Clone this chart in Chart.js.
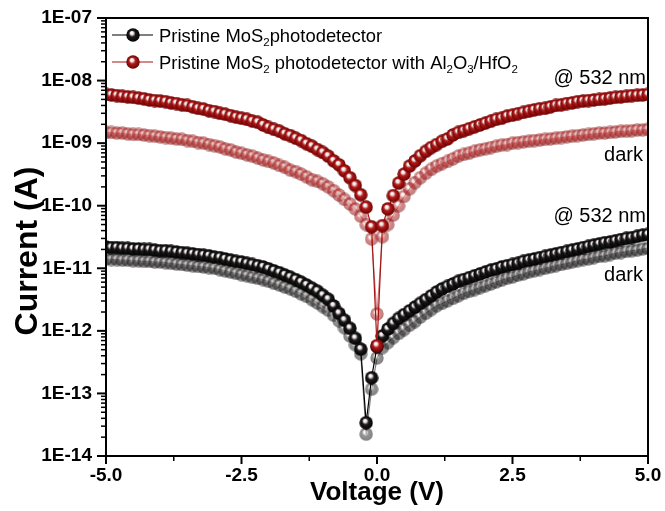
<!DOCTYPE html>
<html>
<head>
<meta charset="utf-8">
<script src="https://cdn.jsdelivr.net/npm/chart.js@4"></script>
<style>
  body { margin: 0; background: #fff; }
  #myChart { display: block; }
</style>
</head>
<body>
<canvas id="myChart" width="665" height="511"></canvas>
<script>
  const volts = [
    -5.0, -4.9, -4.8, -4.7, -4.6, -4.5, -4.4, -4.3, -4.2, -4.1,
    -4.0, -3.9, -3.8, -3.7, -3.6, -3.5, -3.4, -3.3, -3.2, -3.1,
    -3.0, -2.9, -2.8, -2.7, -2.6, -2.5, -2.4, -2.3, -2.2, -2.1,
    -2.0, -1.9, -1.8, -1.7, -1.6, -1.5, -1.4, -1.3, -1.2, -1.1,
    -1.0, -0.9, -0.8, -0.7, -0.6, -0.5, -0.4, -0.3, -0.2, -0.1,
    0.0,
    0.1, 0.2, 0.3, 0.4, 0.5, 0.6, 0.7, 0.8, 0.9, 1.0,
    1.1, 1.2, 1.3, 1.4, 1.5, 1.6, 1.7, 1.8, 1.9, 2.0,
    2.1, 2.2, 2.3, 2.4, 2.5, 2.6, 2.7, 2.8, 2.9, 3.0,
    3.1, 3.2, 3.3, 3.4, 3.5, 3.6, 3.7, 3.8, 3.9, 4.0,
    4.1, 4.2, 4.3, 4.4, 4.5, 4.6, 4.7, 4.8, 4.9, 5.0
  ];

  // Pristine MoS2, @ 532 nm
  const mosLight = [
    2.19e-11, 2.14e-11, 2.14e-11, 2.09e-11, 2.09e-11, 2.04e-11, 2.04e-11, 2.0e-11, 2.0e-11, 1.95e-11,
    1.91e-11, 1.91e-11, 1.86e-11, 1.82e-11, 1.78e-11, 1.74e-11, 1.7e-11, 1.66e-11, 1.62e-11, 1.58e-11,
    1.51e-11, 1.48e-11, 1.41e-11, 1.35e-11, 1.29e-11, 1.26e-11, 1.2e-11, 1.15e-11, 1.1e-11, 1.05e-11,
    9.8e-12, 9.1e-12, 8.5e-12, 7.8e-12, 7.2e-12, 6.6e-12, 6.0e-12, 5.4e-12, 4.8e-12, 4.3e-12,
    3.7e-12, 3.2e-12, 2.5e-12, 1.9e-12, 1.48e-12, 1.1e-12, 7.6e-13, 5.1e-13, 3.4e-14, 1.78e-13,
    5.6e-13,
    8.3e-13, 1.07e-12, 1.32e-12, 1.58e-12, 1.82e-12, 2.09e-12, 2.4e-12, 2.75e-12, 3.16e-12, 3.63e-12,
    4.17e-12, 4.68e-12, 5.13e-12, 5.62e-12, 6.17e-12, 6.61e-12, 7.08e-12, 7.59e-12, 8.13e-12, 8.71e-12,
    9.33e-12, 9.77e-12, 1.05e-11, 1.1e-11, 1.15e-11, 1.2e-11, 1.29e-11, 1.35e-11, 1.41e-11, 1.48e-11,
    1.55e-11, 1.62e-11, 1.7e-11, 1.78e-11, 1.86e-11, 1.95e-11, 2.04e-11, 2.14e-11, 2.24e-11, 2.34e-11,
    2.45e-11, 2.57e-11, 2.63e-11, 2.75e-11, 2.88e-11, 3.02e-11, 3.09e-11, 3.24e-11, 3.39e-11, 3.47e-11
  ];

  // Pristine MoS2, dark
  const mosDark = [
    1.41e-11, 1.38e-11, 1.38e-11, 1.35e-11, 1.35e-11, 1.32e-11, 1.32e-11, 1.29e-11, 1.29e-11, 1.26e-11,
    1.26e-11, 1.23e-11, 1.2e-11, 1.17e-11, 1.15e-11, 1.12e-11, 1.1e-11, 1.07e-11, 1.05e-11, 1.02e-11,
    1.0e-11, 9.5e-12, 9.1e-12, 8.7e-12, 8.3e-12, 7.9e-12, 7.6e-12, 7.2e-12, 6.9e-12, 6.6e-12,
    6.2e-12, 5.75e-12, 5.4e-12, 5.0e-12, 4.7e-12, 4.3e-12, 3.9e-12, 3.55e-12, 3.16e-12, 2.8e-12,
    2.45e-12, 2.14e-12, 1.78e-12, 1.45e-12, 1.12e-12, 8.3e-13, 6.0e-13, 4.3e-13, 2.24e-14, 1.17e-13,
    3.7e-13,
    5.4e-13, 6.5e-13, 7.8e-13, 9.1e-13, 1.05e-12, 1.23e-12, 1.41e-12, 1.66e-12, 1.91e-12, 2.19e-12,
    2.51e-12, 2.75e-12, 3.02e-12, 3.31e-12, 3.63e-12, 3.98e-12, 4.27e-12, 4.57e-12, 4.9e-12, 5.25e-12,
    5.62e-12, 6.03e-12, 6.46e-12, 6.92e-12, 7.24e-12, 7.76e-12, 8.13e-12, 8.71e-12, 9.12e-12, 9.55e-12,
    1.0e-11, 1.05e-11, 1.1e-11, 1.15e-11, 1.2e-11, 1.26e-11, 1.32e-11, 1.38e-11, 1.41e-11, 1.48e-11,
    1.55e-11, 1.58e-11, 1.66e-11, 1.74e-11, 1.78e-11, 1.86e-11, 1.91e-11, 1.95e-11, 2.04e-11, 2.09e-11
  ];

  // MoS2 with Al2O3/HfO2, @ 532 nm
  const oxideLight = [
    6.0e-9, 5.9e-9, 5.75e-9, 5.6e-9, 5.5e-9, 5.4e-9, 5.25e-9, 5.1e-9, 4.9e-9, 4.8e-9,
    4.7e-9, 4.6e-9, 4.4e-9, 4.3e-9, 4.1e-9, 4.0e-9, 3.8e-9, 3.6e-9, 3.5e-9, 3.3e-9,
    3.2e-9, 3.0e-9, 2.9e-9, 2.75e-9, 2.6e-9, 2.5e-9, 2.4e-9, 2.25e-9, 2.15e-9, 1.95e-9,
    1.78e-9, 1.66e-9, 1.55e-9, 1.41e-9, 1.32e-9, 1.2e-9, 1.1e-9, 9.8e-10, 8.9e-10, 7.9e-10,
    7.1e-10, 6.2e-10, 5.2e-10, 4.5e-10, 3.6e-10, 2.8e-10, 2.1e-10, 1.5e-10, 9.5e-11, 4.6e-11,
    5.8e-13,
    4.8e-11, 8.9e-11, 1.45e-10, 2.3e-10, 3.2e-10, 4.3e-10, 5.2e-10, 6.3e-10, 7.4e-10, 8.5e-10,
    9.5e-10, 1.07e-9, 1.17e-9, 1.35e-9, 1.48e-9, 1.58e-9, 1.7e-9, 1.82e-9, 1.95e-9, 2.09e-9,
    2.24e-9, 2.4e-9, 2.5e-9, 2.7e-9, 2.8e-9, 2.95e-9, 3.1e-9, 3.24e-9, 3.4e-9, 3.55e-9,
    3.6e-9, 3.8e-9, 4.0e-9, 4.1e-9, 4.3e-9, 4.4e-9, 4.6e-9, 4.7e-9, 4.8e-9, 4.9e-9,
    5.0e-9, 5.1e-9, 5.25e-9, 5.4e-9, 5.5e-9, 5.6e-9, 5.75e-9, 5.8e-9, 5.9e-9, 6.0e-9
  ];

  // MoS2 with Al2O3/HfO2, dark
  const oxideDark = [
    1.48e-9, 1.48e-9, 1.45e-9, 1.45e-9, 1.41e-9, 1.38e-9, 1.38e-9, 1.35e-9, 1.32e-9, 1.29e-9,
    1.26e-9, 1.23e-9, 1.2e-9, 1.17e-9, 1.15e-9, 1.1e-9, 1.07e-9, 1.02e-9, 1.0e-9, 9.5e-10,
    9.1e-10, 8.7e-10, 8.1e-10, 7.8e-10, 7.2e-10, 6.9e-10, 6.5e-10, 6.2e-10, 5.75e-10, 5.4e-10,
    5.1e-10, 4.8e-10, 4.4e-10, 4.1e-10, 3.7e-10, 3.5e-10, 3.2e-10, 2.9e-10, 2.6e-10, 2.45e-10,
    2.24e-10, 2.0e-10, 1.74e-10, 1.48e-10, 1.26e-10, 1.07e-10, 8.9e-11, 6.8e-11, 5.0e-11, 2.95e-11,
    1.86e-12,
    3.2e-11, 5.0e-11, 7.1e-11, 1.0e-10, 1.41e-10, 1.86e-10, 2.34e-10, 2.8e-10, 3.3e-10, 3.8e-10,
    4.3e-10, 4.7e-10, 5.1e-10, 5.6e-10, 6.2e-10, 6.6e-10, 6.9e-10, 7.4e-10, 7.8e-10, 8.1e-10,
    8.5e-10, 8.9e-10, 9.3e-10, 9.5e-10, 1.0e-9, 1.02e-9, 1.05e-9, 1.07e-9, 1.1e-9, 1.12e-9,
    1.15e-9, 1.17e-9, 1.2e-9, 1.23e-9, 1.26e-9, 1.29e-9, 1.32e-9, 1.35e-9, 1.38e-9, 1.41e-9,
    1.45e-9, 1.45e-9, 1.48e-9, 1.51e-9, 1.55e-9, 1.55e-9, 1.58e-9, 1.62e-9, 1.62e-9, 1.66e-9
  ];

  const currentTicks = [1e-14, 1e-13, 1e-12, 1e-11, 1e-10, 1e-9, 1e-8, 1e-7];
  const voltTicks = [-5, -2.5, 0, 2.5, 5];

  const legendRows = [
    [{t: 'Pristine MoS'}, {t: '2', sub: true}, {t: 'photodetector'}],
    [{t: 'Pristine MoS'}, {t: '2', sub: true}, {t: ' photodetector with Al'}, {t: '2', sub: true},
     {t: 'O'}, {t: '3', sub: true}, {t: '/HfO'}, {t: '2', sub: true}]
  ];
  const notes = ['@ 532 nm', 'dark', '@ 532 nm', 'dark'];

  const FONT = 'Liberation Sans, Arial, Helvetica, sans-serif';
  Chart.defaults.font.family = FONT;
  Chart.defaults.color = '#000';

  // shaded ball used as marker
  function ball(mid, edge, alpha) {
    const c = document.createElement('canvas');
    c.width = c.height = 14;
    const g = c.getContext('2d');
    g.globalAlpha = alpha;
    const grd = g.createRadialGradient(5.6, 4.6, 0.2, 7, 7, 7);
    grd.addColorStop(0, '#ffffff');
    grd.addColorStop(0.2, '#f0e4e4');
    grd.addColorStop(0.45, mid);
    grd.addColorStop(1, edge);
    g.fillStyle = grd;
    g.beginPath();
    g.arc(7, 7, 6.7, 0, Math.PI * 2);
    g.fill();
    return c;
  }
  const blackBall = ball('#1c1c1c', '#000000', 1);
  const greyBall = ball('#2c2c2c', '#000000', 0.5);
  const redBall = ball('#b31a1a', '#680000', 1);
  const pinkBall = ball('#c02e2e', '#7a1010', 0.55);

  const pts = ys => volts.map((v, i) => ({x: v, y: ys[i]}));

  const data = {
    datasets: [{
      label: 'MoS2 + Al2O3/HfO2 @ 532 nm',
      data: pts(oxideLight),
      borderColor: '#a31414',
      pointStyle: redBall,
      order: 0
    }, {
      label: 'MoS2 + Al2O3/HfO2 dark',
      data: pts(oxideDark),
      borderColor: 'rgba(176,34,34,0.55)',
      pointStyle: pinkBall,
      order: 1
    }, {
      label: 'Pristine MoS2 @ 532 nm',
      data: pts(mosLight),
      borderColor: '#000',
      pointStyle: blackBall,
      order: 2
    }, {
      label: 'Pristine MoS2 dark',
      data: pts(mosDark),
      borderColor: 'rgba(0,0,0,0.5)',
      pointStyle: greyBall,
      order: 3
    }]
  };

  const noPad = s => {
    s.paddingTop = 0; s.paddingBottom = 0;
    s.paddingLeft = 0; s.paddingRight = 0;
  };

  const overlay = {
    id: 'overlay',
    afterDraw(chart) {
      const {ctx, chartArea: a, scales: {x, y}} = chart;
      ctx.save();
      ctx.strokeStyle = '#000';
      ctx.lineWidth = 2;
      ctx.strokeRect(a.left, a.top, a.right - a.left, a.bottom - a.top);

      // y ticks, major + minor
      for (let e = -14; e <= -7; e++) {
        for (let k = 1; k <= 9; k++) {
          if (e === -7 && k > 1) break;
          const py = y.getPixelForValue(k * Math.pow(10, e));
          ctx.lineWidth = k === 1 ? 2 : 1.5;
          ctx.beginPath();
          ctx.moveTo(a.left - (k === 1 ? 9 : 5), py);
          ctx.lineTo(a.left, py);
          ctx.stroke();
        }
      }
      // x ticks
      [-5, -3.75, -2.5, -1.25, 0, 1.25, 2.5, 3.75, 5].forEach(v => {
        const px = x.getPixelForValue(v);
        const major = v % 2.5 === 0;
        ctx.lineWidth = major ? 2 : 1.5;
        ctx.beginPath();
        ctx.moveTo(px, a.bottom);
        ctx.lineTo(px, a.bottom + (major ? 8 : 5));
        ctx.stroke();
      });

      // y axis title
      ctx.save();
      ctx.translate(28, 251);
      ctx.rotate(-Math.PI / 2);
      ctx.font = 'bold 32px ' + FONT;
      ctx.textAlign = 'center';
      ctx.textBaseline = 'middle';
      ctx.fillStyle = '#000';
      ctx.fillText('Current (A)', 0, 0);
      ctx.restore();

      // legend
      const rowY = [35, 62];
      const cols = ['#000', '#a31414'];
      const balls = [blackBall, redBall];
      legendRows.forEach((row, i) => {
        ctx.strokeStyle = cols[i];
        ctx.lineWidth = 1.2;
        ctx.beginPath();
        ctx.moveTo(112, rowY[i]);
        ctx.lineTo(153, rowY[i]);
        ctx.stroke();
        ctx.drawImage(balls[i], 133 - 7, rowY[i] - 7);
        let tx = 159;
        ctx.fillStyle = '#000';
        ctx.textBaseline = 'alphabetic';
        ctx.textAlign = 'left';
        row.forEach(p => {
          const s = p.sub ? 11.5 : 18.4;
          ctx.font = s + 'px ' + FONT;
          ctx.fillText(p.t, tx, rowY[i] + 7 + (p.sub ? 4 : 0));
          tx += ctx.measureText(p.t).width;
        });
      });

      // curve notes
      ctx.font = '20px ' + FONT;
      ctx.textAlign = 'right';
      ctx.fillStyle = '#000';
      const noteY = [84, 161, 222, 281];
      const noteX = [646, 643, 646, 643];
      notes.forEach((t, i) => ctx.fillText(t, noteX[i], noteY[i]));
      ctx.restore();
    }
  };

  const config = {
    type: 'line',
    data: data,
    options: {
      responsive: false,
      animation: false,
      layout: {padding: {top: 18, right: 17, left: 0, bottom: 0}},
      elements: {
        line: {borderWidth: 1.2, tension: 0},
        point: {radius: 6.7, hoverRadius: 6.7}
      },
      datasets: {line: {clip: 0}},
      plugins: {legend: {display: false}, tooltip: {enabled: false}},
      scales: {
        x: {
          type: 'linear',
          min: -5,
          max: 5,
          afterBuildTicks: s => { s.ticks = voltTicks.map(v => ({value: v})); },
          afterFit: s => { s.height = 55; noPad(s); },
          grid: {display: false, drawTicks: false},
          border: {display: false},
          ticks: {
            padding: 8,
            maxRotation: 0,
            font: {size: 19, weight: 'bold'},
            callback: v => v.toFixed(1)
          },
          title: {
            display: true,
            text: 'Voltage (V)',
            font: {size: 26, weight: 'bold'},
            padding: {top: 0, bottom: 3}
          }
        },
        y: {
          type: 'logarithmic',
          min: 1e-14,
          max: 1e-7,
          afterBuildTicks: s => { s.ticks = currentTicks.map(v => ({value: v})); },
          afterFit: s => { s.width = 106; noPad(s); },
          grid: {display: false, drawTicks: false},
          border: {display: false},
          ticks: {
            padding: 14,
            autoSkip: false,
            font: {size: 19, weight: 'bold'},
            callback: v => '1E-' + String(-Math.round(Math.log10(v))).padStart(2, '0')
          }
        }
      }
    },
    plugins: [overlay]
  };

  const myChart = new Chart(
    document.getElementById('myChart'),
    config
  );
</script>
</body>
</html>
